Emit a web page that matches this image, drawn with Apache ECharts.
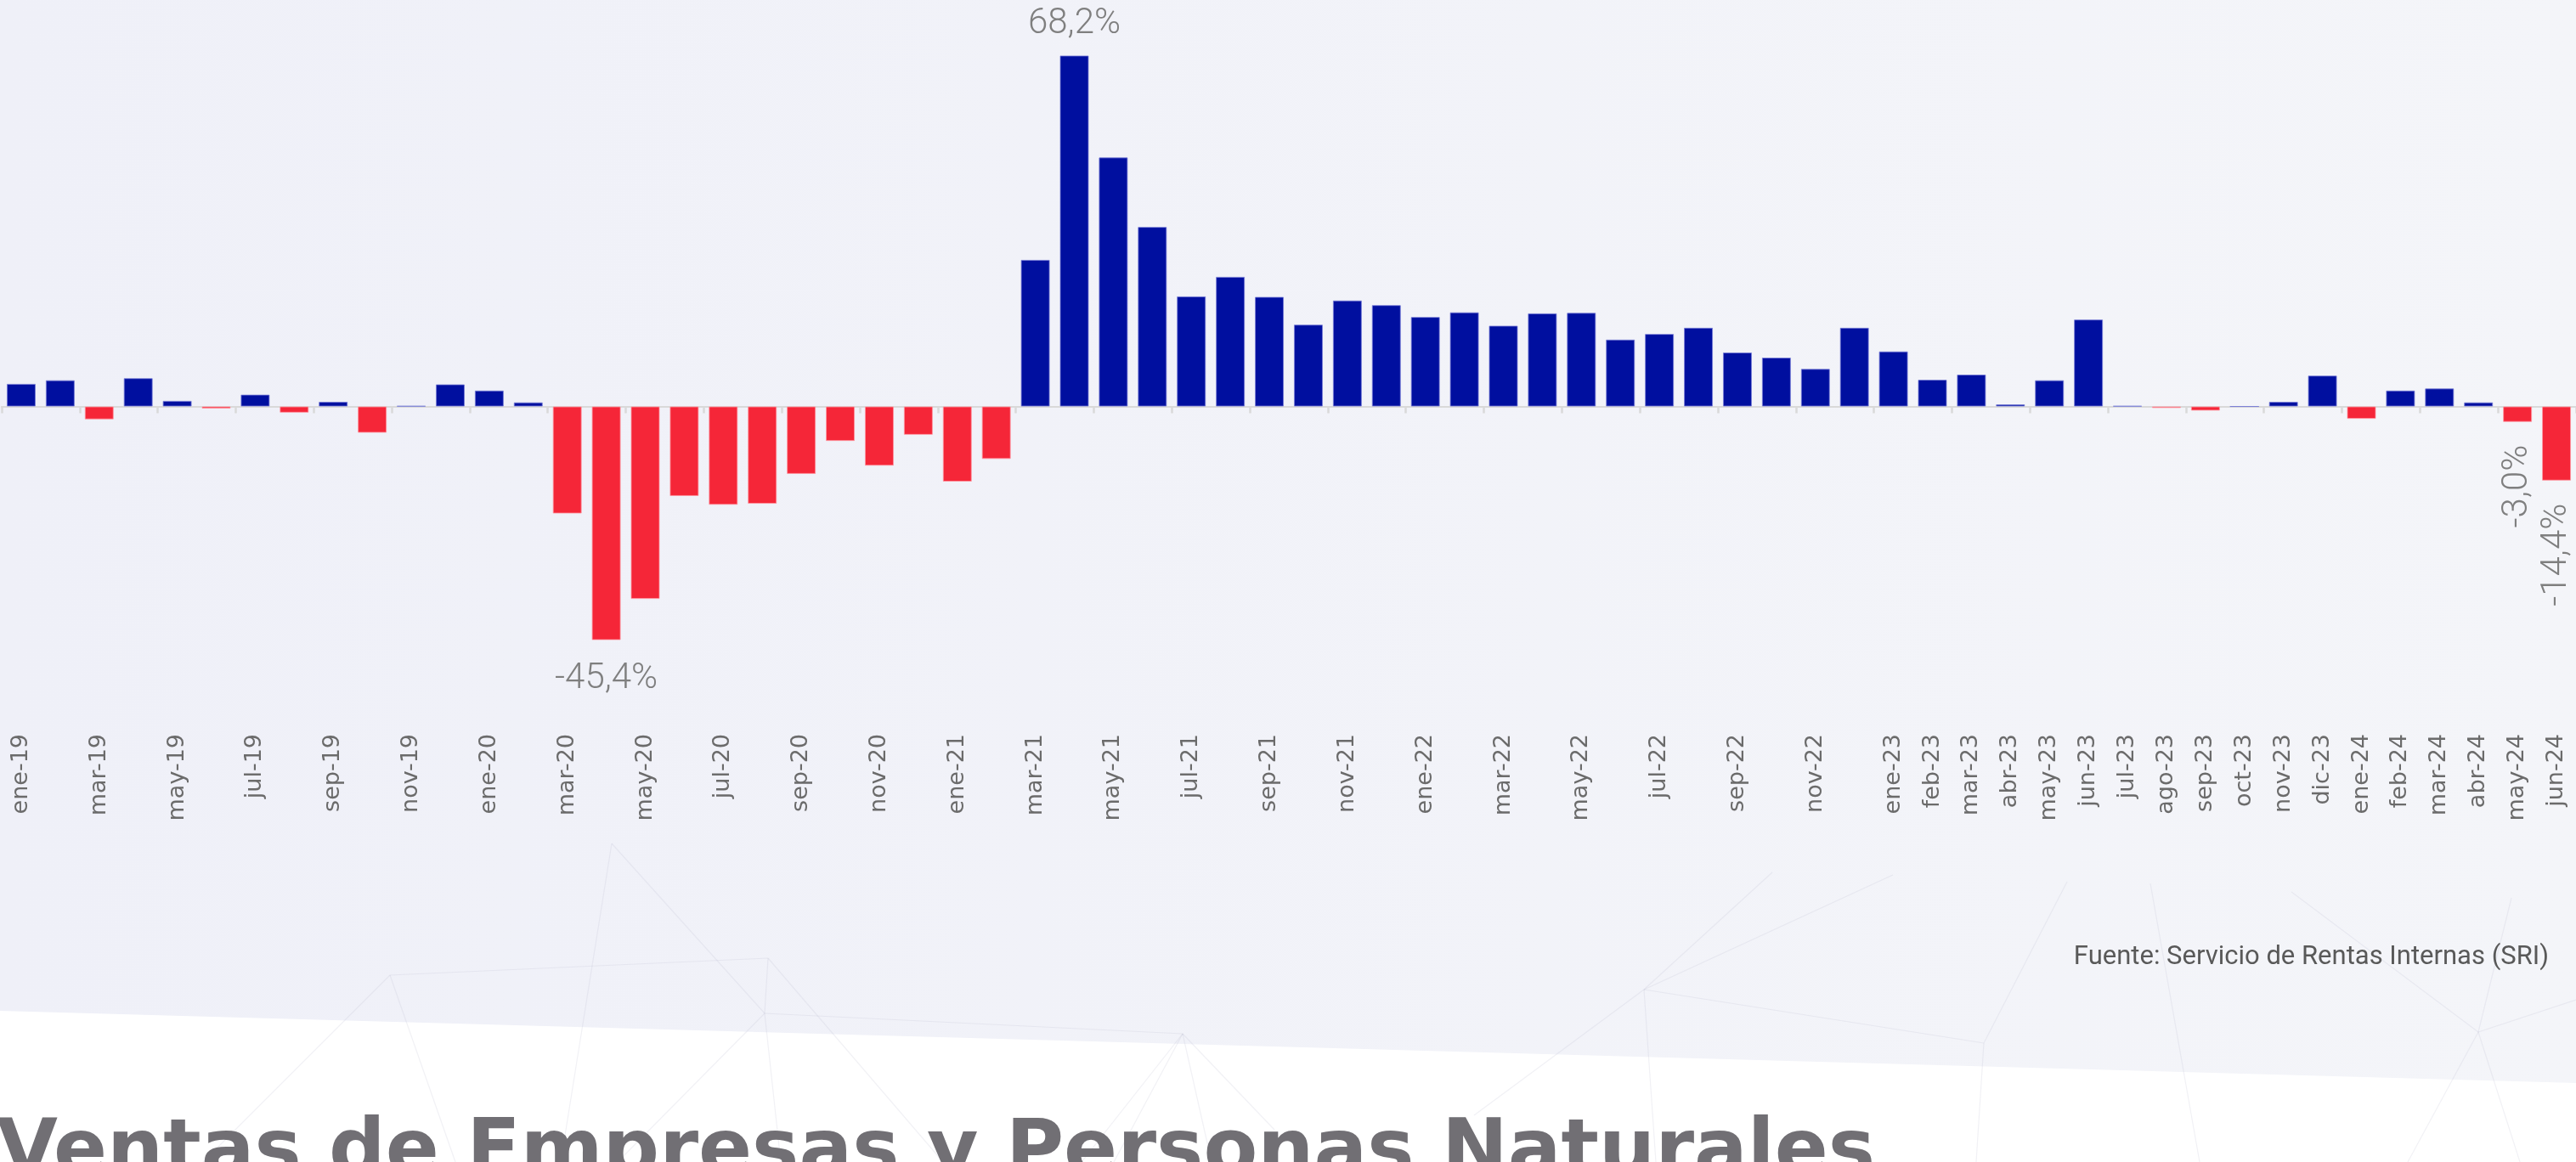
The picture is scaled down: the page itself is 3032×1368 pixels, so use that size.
<!DOCTYPE html>
<html>
<head>
    <meta charset="utf-8">
    <title>Ventas de Empresas y Personas Naturales</title>
    <script src="https://cdn.jsdelivr.net/npm/echarts@6/dist/echarts.min.js"></script>
    <style>
        html, body { margin: 0; padding: 0; background: #eff0f8; overflow: hidden; }
        #main { width: 3032px; height: 1368px; }
    </style>
</head>
<body>
<div id="main"></div>
<script>
// meses (ene-19 .. jun-24)
var meses = [
    'ene-19', 'feb-19', 'mar-19', 'abr-19', 'may-19', 'jun-19', 'jul-19', 'ago-19', 'sep-19', 'oct-19', 'nov-19', 'dic-19',
    'ene-20', 'feb-20', 'mar-20', 'abr-20', 'may-20', 'jun-20', 'jul-20', 'ago-20', 'sep-20', 'oct-20', 'nov-20', 'dic-20',
    'ene-21', 'feb-21', 'mar-21', 'abr-21', 'may-21', 'jun-21', 'jul-21', 'ago-21', 'sep-21', 'oct-21', 'nov-21', 'dic-21',
    'ene-22', 'feb-22', 'mar-22', 'abr-22', 'may-22', 'jun-22', 'jul-22', 'ago-22', 'sep-22', 'oct-22', 'nov-22', 'dic-22',
    'ene-23', 'feb-23', 'mar-23', 'abr-23', 'may-23', 'jun-23', 'jul-23', 'ago-23', 'sep-23', 'oct-23', 'nov-23', 'dic-23',
    'ene-24', 'feb-24', 'mar-24', 'abr-24', 'may-24', 'jun-24'
];

// variación anual de ventas (%)
var variacion = [
    4.4, 5.1, -2.5, 5.5, 1.1, -0.4, 2.3, -1.2, 0.9, -5.1, 0.1, 4.3,
    3.1, 0.8, -20.8, -45.4, -37.4, -17.4, -19.1, -18.9, -13.1, -6.7, -11.5, -5.5,
    -14.6, -10.2, 28.5, 68.2, 48.4, 34.9, 21.4, 25.2, 21.3, 15.9, 20.6, 19.7,
    17.4, 18.3, 15.7, 18.1, 18.2, 13.0, 14.1, 15.3, 10.5, 9.5, 7.3, 15.3,
    10.7, 5.2, 6.2, 0.4, 5.1, 16.9, 0.1, -0.3, -0.8, 0.0, 0.9, 6.0,
    -2.4, 3.1, 3.5, 0.8, -3.0, -14.4
];

// meses con etiqueta de valor
var etiquetaHorizontal = ['abr-20', 'abr-21'];
var etiquetaVertical = ['may-24', 'jun-24'];

var azul = '#000f9f';
var rojo = '#f52638';

var chart = echarts.init(document.getElementById('main'), null, { renderer: 'canvas' });

var datos = variacion.map(function (v, i) {
    var item = {
        value: v,
        itemStyle: {
            color: v >= 0 ? azul : rojo,
            borderColor: v >= 0 ? 'rgba(120,125,215,0.8)' : 'rgba(255,150,160,0.8)'
        }
    };
    var mes = meses[i];
    if (etiquetaHorizontal.indexOf(mes) >= 0) {
        item.label = {
            show: true,
            position: v >= 0 ? 'top' : 'bottom',
            distance: v >= 0 ? 16 : 25
        };
    } else if (etiquetaVertical.indexOf(mes) >= 0) {
        item.label = {
            show: true,
            position: 'bottom',
            distance: 27,
            rotate: 90,
            align: 'right',
            verticalAlign: 'middle'
        };
    }
    return item;
});

// líneas decorativas del fondo
var trazos = [
    [[720, 993], [900, 1193]], [[720, 993], [660, 1368]], [[459, 1148], [904, 1128]],
    [[904, 1128], [900, 1193]], [[900, 1193], [1392, 1217]], [[459, 1148], [239, 1368]],
    [[459, 1148], [536, 1368]], [[900, 1193], [727, 1368]], [[900, 1193], [919, 1368]],
    [[904, 1128], [1110, 1368]], [[1392, 1217], [1273, 1368]], [[1392, 1217], [1311, 1368]],
    [[1392, 1217], [1426, 1368]], [[1392, 1217], [1500, 1330]],
    [[1935, 1165], [2086, 1027]], [[1935, 1165], [2228, 1030]], [[1935, 1165], [2335, 1228]],
    [[1935, 1165], [1735, 1313]], [[1935, 1165], [1949, 1368]], [[2335, 1228], [2433, 1038]],
    [[2335, 1228], [2326, 1368]], [[2917, 1215], [2956, 1057]], [[2917, 1215], [2697, 1050]],
    [[2531, 1040], [2589, 1368]], [[2917, 1215], [2834, 1368]], [[2917, 1215], [3032, 1177]],
    [[2917, 1215], [2966, 1368]]
];

var graficos = [{
    type: 'rect',
    z: -20,
    silent: true,
    shape: { x: 0, y: 0, width: 3032, height: 1368 },
    style: {
        fill: new echarts.graphic.LinearGradient(0, 0, 1, 0, [
            { offset: 0, color: '#eff0f8' },
            { offset: 1, color: '#f4f5f9' }
        ])
    }
}, {
    type: 'polygon',
    z: -19,
    silent: true,
    shape: { points: [[0, 1190], [3032, 1275], [3032, 1368], [0, 1368]] },
    style: { fill: '#ffffff' }
}];

trazos.forEach(function (t) {
    graficos.push({
        type: 'polyline',
        z: -18,
        silent: true,
        shape: { points: t },
        style: { stroke: 'rgba(185,185,205,0.2)', lineWidth: 1.2, fill: null }
    });
});

graficos.push({
    type: 'text',
    z: 10,
    x: 3000,
    y: 1112,
    style: {
        text: 'Fuente: Servicio de Rentas Internas (SRI)',
        font: '31px Roboto',
        fill: '#595959',
        textAlign: 'right',
        align: 'right',
        textVerticalAlign: 'top',
        verticalAlign: 'top'
    }
}, {
    type: 'text',
    z: 10,
    x: -4,
    y: 1312,
    style: {
        text: 'Ventas de Empresas y Personas Naturales',
        font: 'bold 93px "DejaVu Sans"',
        fill: '#716f74',
        textAlign: 'left',
        align: 'left',
        textVerticalAlign: 'top',
        verticalAlign: 'top'
    }
});

var option = {
    backgroundColor: 'transparent',
    animation: false,
    graphic: graficos,
    grid: {
        left: 2,
        right: -2,
        top: 0,
        height: 842
    },
    xAxis: [{
        type: 'category',
        data: meses,
        axisLine: {
            onZero: true,
            lineStyle: { color: '#d9d9d9', width: 2 }
        },
        axisTick: {
            show: true,
            length: 8,
            lineStyle: { color: '#d9d9d9', width: 2.5 }
        },
        axisLabel: { show: false },
        splitLine: { show: false }
    }, {
        type: 'category',
        data: meses,
        position: 'bottom',
        axisLine: { show: false, onZero: false },
        axisTick: { show: false },
        axisLabel: {
            rotate: 90,
            margin: 22,
            fontFamily: 'DejaVu Sans',
            fontSize: 27,
            color: '#6b6b6b',
            interval: function (i) {
                return (i <= 46 && i % 2 === 0) || i >= 48;
            }
        },
        splitLine: { show: false }
    }],
    yAxis: {
        type: 'value',
        min: -60,
        max: 79,
        show: false,
        splitLine: { show: false }
    },
    series: [{
        name: 'Variación',
        type: 'bar',
        xAxisIndex: 0,
        barWidth: 34,
        itemStyle: { borderWidth: 1 },
        label: {
            fontFamily: 'Roboto',
            fontWeight: 300,
            fontSize: 42,
            color: '#7f7f7f',
            formatter: function (p) {
                return p.value.toFixed(1).replace('.', ',') + '%';
            }
        },
        data: datos
    }]
};
chart.setOption(option);
</script>
</body>
</html>
